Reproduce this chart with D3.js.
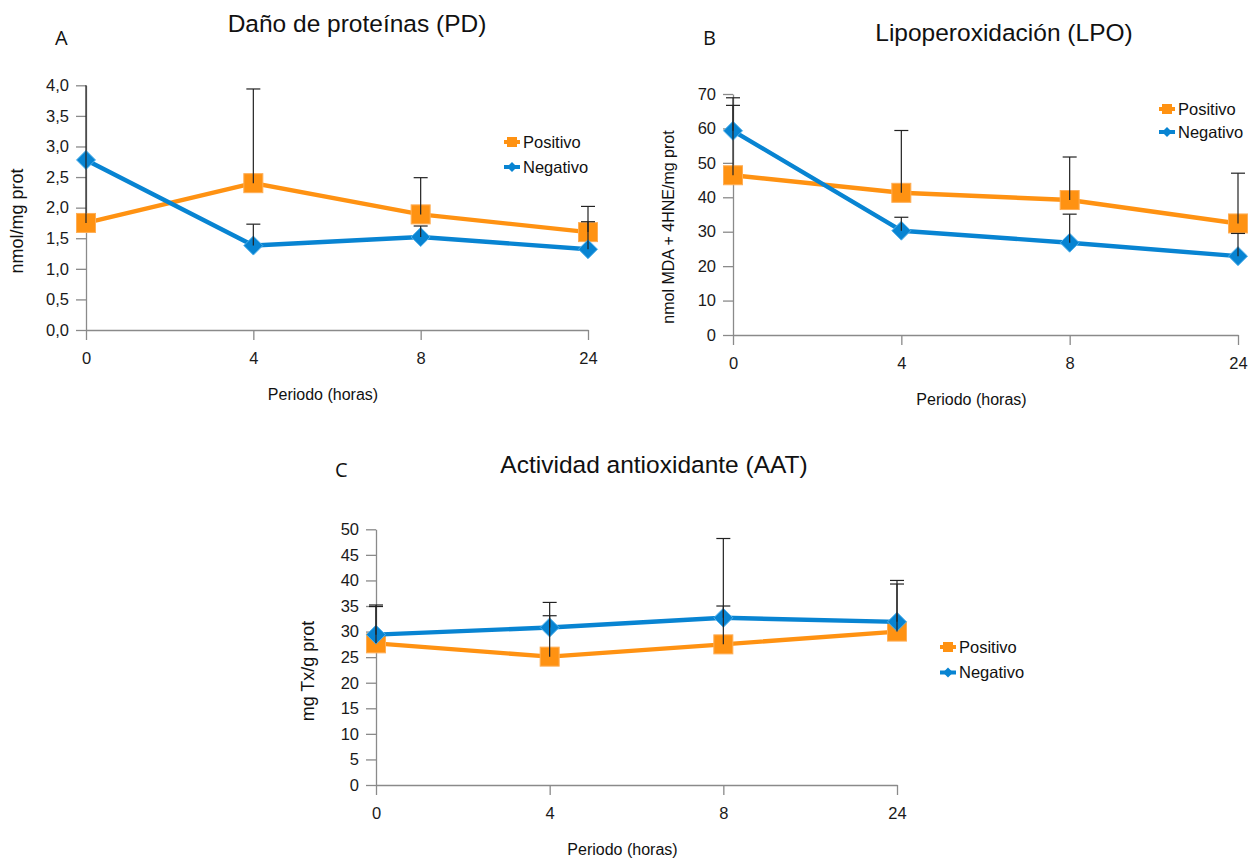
<!DOCTYPE html>
<html>
<head>
<meta charset="utf-8">
<script src="https://cdn.jsdelivr.net/npm/d3@7"></script>
<style>
  body { margin: 0; background: #fff; }
  svg { display: block; font-family: "Liberation Sans", Arial, sans-serif; }
</style>
</head>
<body>
<svg id="chart" width="1253" height="859"></svg>
<script>
// periods (hours)
const periods = ['0', '4', '8', '24'];
const seriesNames = ['Positivo', 'Negativo'];

// A - protein damage
const pdPositivo = [1.75, 2.40, 1.89, 1.60];
const pdPositivoErr = [2.40, 1.54, 0.60, 0.42];
const pdNegativo = [2.78, 1.38, 1.52, 1.32];
const pdNegativoErr = [0, 0.35, 0.18, 0.45];
const pdTicks = [0, 0.5, 1, 1.5, 2, 2.5, 3, 3.5, 4];

// B - lipoperoxidation
const lpoPositivo = [46.4, 41.3, 39.2, 32.4];
const lpoPositivoErr = [20.3, 18.1, 12.5, 14.6];
const lpoNegativo = [59.3, 30.3, 26.8, 22.9];
const lpoNegativoErr = [9.6, 3.9, 8.3, 6.6];
const lpoTicks = [0, 10, 20, 30, 40, 50, 60, 70];

// C - antioxidant activity
const aatPositivo = [27.7, 25.1, 27.5, 30.0];
const aatPositivoErr = [7.2, 8.0, 7.5, 9.3];
const aatNegativo = [29.4, 30.8, 32.7, 31.9];
const aatNegativoErr = [5.8, 4.9, 15.5, 8.1];
const aatTicks = [0, 5, 10, 15, 20, 25, 30, 35, 40, 45, 50];

const orange = '#ff9212';
const blue = '#0884d2';
const axisColor = '#8a8a8a';

const svg = d3.select('#chart');

function drawPanel(cfg) {
  const g = svg.append('g');

  const x = d3.scalePoint().domain(periods).range([cfg.x0, cfg.x1]);
  const y = d3.scaleLinear().domain([0, cfg.ymax]).range([cfg.y0, cfg.y1]);

  // axes
  const yAxis = d3.axisLeft(y).tickValues(cfg.ticks).tickSize(10).tickSizeOuter(0).tickPadding(7)
    .tickFormat(cfg.fmt);
  const xAxis = d3.axisBottom(x).tickSize(10).tickSizeOuter(0).tickPadding(12);

  const ya = g.append('g').attr('transform', `translate(${cfg.x0},0)`).call(yAxis);
  const xa = g.append('g').attr('transform', `translate(0,${cfg.y0})`).call(xAxis);
  [ya, xa].forEach(a => {
    a.select('.domain').attr('stroke', axisColor).attr('stroke-width', 1.3);
    a.selectAll('.tick line').attr('stroke', axisColor).attr('stroke-width', 1.3);
    a.selectAll('.tick text').attr('fill', '#1a1a1a')
      .style('font-size', '16.5px').style('font-family', '"Liberation Sans", Arial, sans-serif');
  });

  // titles and labels
  g.append('text')
    .attr('x', cfg.titleX).attr('y', cfg.titleY)
    .attr('text-anchor', 'middle')
    .style('font-size', '24.5px').attr('fill', '#111')
    .text(cfg.title);

  g.append('text')
    .attr('x', cfg.letterX).attr('y', cfg.letterY)
    .style('font-size', '20px').style('font-family', '"Open Sans", "Noto Sans", sans-serif')
    .attr('fill', '#111')
    .text(cfg.letter);

  g.append('text')
    .attr('x', (cfg.x0 + cfg.x1) / 2 - 14).attr('y', cfg.y0 + 70)
    .attr('text-anchor', 'middle')
    .style('font-size', '16px').attr('fill', '#111')
    .text('Periodo (horas)');

  g.append('text')
    .attr('transform', `translate(${cfg.ylabX},${cfg.ylabY}) rotate(-90)`)
    .attr('text-anchor', 'middle')
    .style('font-size', cfg.ylabSize + 'px').attr('fill', '#111')
    .text(cfg.ylabel);

  const series = [
    { name: 'Positivo', values: cfg.pos, err: cfg.posErr, color: orange, shape: 'square' },
    { name: 'Negativo', values: cfg.neg, err: cfg.negErr, color: blue, shape: 'diamond' }
  ];

  const line = d3.line().x((d, i) => x(periods[i])).y(d => y(d));

  series.forEach(s => {
    g.append('path')
      .datum(s.values)
      .attr('fill', 'none')
      .attr('stroke', s.color)
      .attr('stroke-width', 4.4)
      .attr('stroke-linejoin', 'round')
      .attr('d', line);

    s.values.forEach((v, i) => {
      const cx = x(periods[i]);
      const cy = y(v);
      if (s.shape === 'square') {
        g.append('rect')
          .attr('x', cx - 9.5).attr('y', cy - 9.5)
          .attr('width', 19).attr('height', 19)
          .attr('fill', s.color)
          .attr('stroke', '#ffae55').attr('stroke-width', 1);
      } else {
        g.append('path')
          .attr('d', `M${cx},${cy - 9.5}L${cx + 9.5},${cy}L${cx},${cy + 9.5}L${cx - 9.5},${cy}Z`)
          .attr('fill', s.color)
          .attr('stroke', '#4fb0ec').attr('stroke-width', 1);
      }
    });
  });

  // error bars (plus only), on top of markers
  series.forEach(s => {
    s.values.forEach((v, i) => {
      if (!s.err[i]) return;
      const cx = x(periods[i]);
      const top = v + s.err[i];
      const clipped = top > cfg.ymax;
      const ty = y(Math.min(top, cfg.ymax));
      g.append('line')
        .attr('x1', cx).attr('x2', cx)
        .attr('y1', y(v)).attr('y2', ty)
        .attr('stroke', '#222').attr('stroke-width', 1.2);
      if (!clipped) {
        g.append('line')
          .attr('x1', cx - 7).attr('x2', cx + 7)
          .attr('y1', ty).attr('y2', ty)
          .attr('stroke', '#222').attr('stroke-width', 1.2);
      }
    });
  });

  // legend
  const lg = g.append('g');
  series.forEach((s, i) => {
    const ly = cfg.legY + i * cfg.legGap;
    lg.append('line')
      .attr('x1', cfg.legX - 8).attr('x2', cfg.legX + 8)
      .attr('y1', ly).attr('y2', ly)
      .attr('stroke', s.color).attr('stroke-width', 4);
    if (s.shape === 'square') {
      lg.append('rect')
        .attr('x', cfg.legX - 5).attr('y', ly - 5)
        .attr('width', 10).attr('height', 10)
        .attr('fill', s.color);
    } else {
      lg.append('path')
        .attr('d', `M${cfg.legX},${ly - 5}L${cfg.legX + 5},${ly}L${cfg.legX},${ly + 5}L${cfg.legX - 5},${ly}Z`)
        .attr('fill', s.color);
    }
    lg.append('text')
      .attr('x', cfg.legX + 11).attr('y', ly)
      .attr('dy', '0.35em')
      .style('font-size', '16.5px').attr('fill', '#111')
      .text(seriesNames[i]);
  });
}

const fmtComma = d => d3.format('.1f')(d).replace('.', ',');

drawPanel({
  letter: 'A', letterX: 55, letterY: 45,
  title: 'Daño de proteínas (PD)', titleX: 357, titleY: 32,
  x0: 86, x1: 588, y0: 330, y1: 85.3, ymax: 4, ticks: pdTicks, fmt: fmtComma,
  ylabel: 'nmol/mg prot', ylabX: 23, ylabY: 221, ylabSize: 18,
  pos: pdPositivo, posErr: pdPositivoErr, neg: pdNegativo, negErr: pdNegativoErr,
  legX: 512, legY: 142, legGap: 25
});

drawPanel({
  letter: 'B', letterX: 703, letterY: 45,
  title: 'Lipoperoxidación (LPO)', titleX: 1004, titleY: 41,
  x0: 733, x1: 1238, y0: 335, y1: 94, ymax: 70, ticks: lpoTicks, fmt: d3.format('d'),
  ylabel: 'nmol MDA + 4HNE/mg prot', ylabX: 674, ylabY: 227, ylabSize: 16,
  pos: lpoPositivo, posErr: lpoPositivoErr, neg: lpoNegativo, negErr: lpoNegativoErr,
  legX: 1167, legY: 109, legGap: 23
});

drawPanel({
  letter: 'C', letterX: 335, letterY: 477,
  title: 'Actividad antioxidante (AAT)', titleX: 654, titleY: 473,
  x0: 376, x1: 897, y0: 785, y1: 529.3, ymax: 50, ticks: aatTicks, fmt: d3.format('d'),
  ylabel: 'mg Tx/g prot', ylabX: 314, ylabY: 671, ylabSize: 18,
  pos: aatPositivo, posErr: aatPositivoErr, neg: aatNegativo, negErr: aatNegativoErr,
  legX: 948, legY: 647, legGap: 25.5
});
</script>
</body>
</html>
